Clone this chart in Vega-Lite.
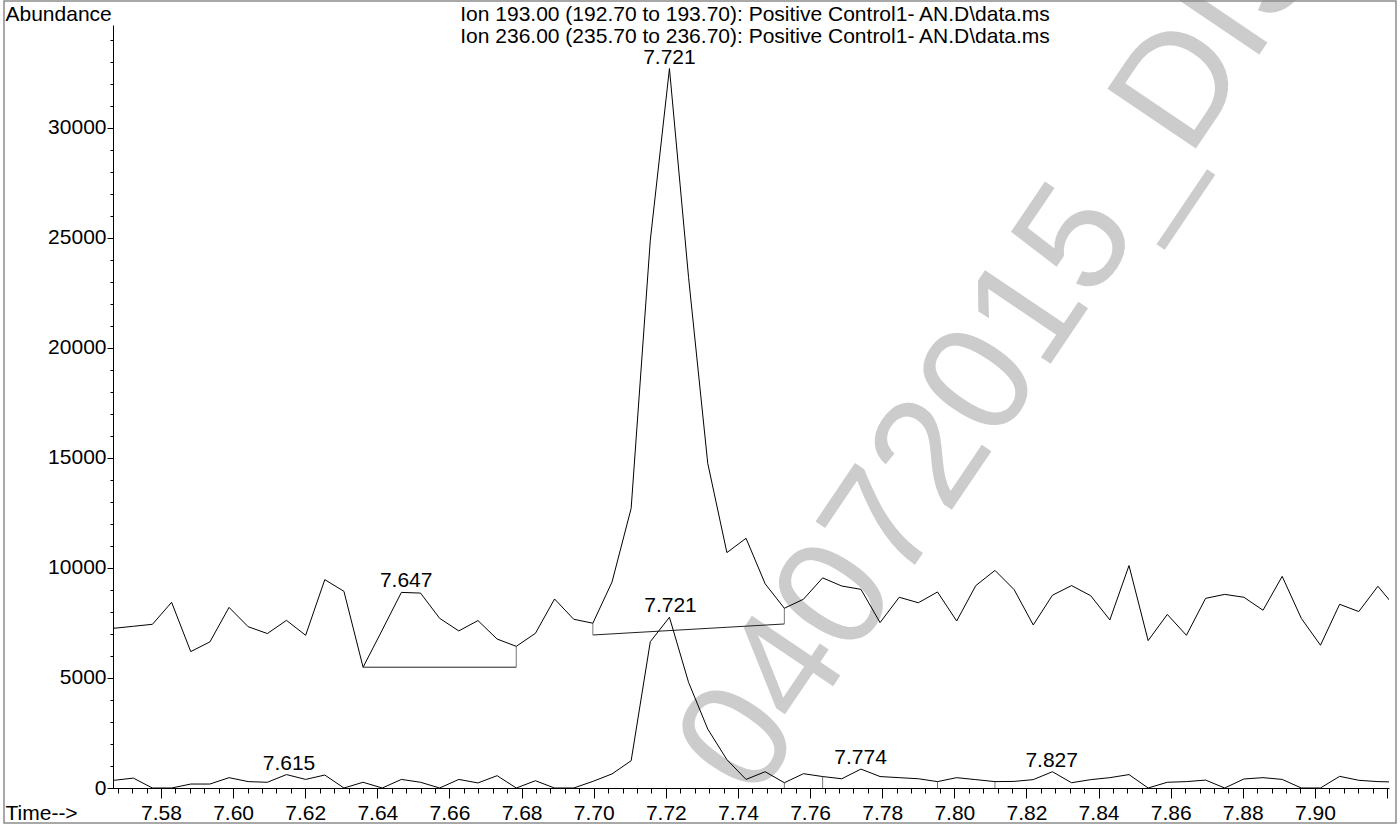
{
  "$schema": "https://vega.github.io/schema/vega-lite/v6.json",
  "width": 1276,
  "height": 763,
  "autosize": {"type": "none"},
  "padding": {"left": 113, "top": 25, "right": 11, "bottom": 37},
  "background": "white",
  "config": {
    "view": {"stroke": null},
    "font": "Liberation Sans",
    "axis": {
      "grid": false,
      "zindex": 1,
      "domainColor": "#000000",
      "domainWidth": 1,
      "tickColor": "#000000",
      "tickWidth": 1,
      "labelColor": "#000000",
      "labelFont": "Liberation Sans",
      "labelFontSize": 21,
      "titleColor": "#000000",
      "titleFont": "Liberation Sans",
      "titleFontSize": 21,
      "titleFontWeight": "normal",
      "labelFlush": false,
      "labelOverlap": false
    }
  },
  "datasets": {
    "scans": [
      {"t": 7.5617, "a": 9200, "b": 330},
      {"t": 7.56701, "a": 7260, "b": 350},
      {"t": 7.57232, "a": 7350, "b": 450},
      {"t": 7.57763, "a": 7440, "b": 0},
      {"t": 7.58294, "a": 8440, "b": 0},
      {"t": 7.58825, "a": 6200, "b": 180},
      {"t": 7.59356, "a": 6640, "b": 180},
      {"t": 7.59887, "a": 8210, "b": 470},
      {"t": 7.60418, "a": 7330, "b": 290},
      {"t": 7.60949, "a": 7020, "b": 260},
      {"t": 7.6148, "a": 7620, "b": 610},
      {"t": 7.62011, "a": 6940, "b": 390},
      {"t": 7.62542, "a": 9470, "b": 590},
      {"t": 7.63073, "a": 8940, "b": 0},
      {"t": 7.63604, "a": 5490, "b": 260},
      {"t": 7.64135, "a": 7180, "b": 0},
      {"t": 7.64666, "a": 8890, "b": 390},
      {"t": 7.65197, "a": 8860, "b": 260},
      {"t": 7.65728, "a": 7710, "b": 0},
      {"t": 7.66259, "a": 7140, "b": 390},
      {"t": 7.6679, "a": 7610, "b": 230},
      {"t": 7.67321, "a": 6770, "b": 560},
      {"t": 7.67852, "a": 6440, "b": 0},
      {"t": 7.68383, "a": 7030, "b": 330},
      {"t": 7.68914, "a": 8590, "b": 0},
      {"t": 7.69445, "a": 7670, "b": 0},
      {"t": 7.69976, "a": 7490, "b": 300},
      {"t": 7.70507, "a": 9360, "b": 640},
      {"t": 7.71038, "a": 12710, "b": 1240},
      {"t": 7.71569, "a": 24900, "b": 6650},
      {"t": 7.721, "a": 32700, "b": 7760},
      {"t": 7.72631, "a": 23200, "b": 4800},
      {"t": 7.73162, "a": 14760, "b": 2680},
      {"t": 7.73693, "a": 10700, "b": 1290},
      {"t": 7.74224, "a": 11350, "b": 390},
      {"t": 7.74755, "a": 9280, "b": 740},
      {"t": 7.75286, "a": 8170, "b": 240},
      {"t": 7.75817, "a": 8580, "b": 650},
      {"t": 7.76348, "a": 9550, "b": 520},
      {"t": 7.76879, "a": 9180, "b": 420},
      {"t": 7.7741, "a": 9030, "b": 860},
      {"t": 7.77941, "a": 7520, "b": 520},
      {"t": 7.78472, "a": 8670, "b": 470},
      {"t": 7.79003, "a": 8420, "b": 420},
      {"t": 7.79534, "a": 8910, "b": 290},
      {"t": 7.80065, "a": 7590, "b": 470},
      {"t": 7.80596, "a": 9200, "b": 380},
      {"t": 7.81127, "a": 9890, "b": 290},
      {"t": 7.81658, "a": 9020, "b": 300},
      {"t": 7.82189, "a": 7410, "b": 380},
      {"t": 7.8272, "a": 8760, "b": 740},
      {"t": 7.83251, "a": 9200, "b": 240},
      {"t": 7.83782, "a": 8740, "b": 380},
      {"t": 7.84313, "a": 7640, "b": 470},
      {"t": 7.84844, "a": 10110, "b": 610},
      {"t": 7.85375, "a": 6700, "b": 0},
      {"t": 7.85906, "a": 7890, "b": 260},
      {"t": 7.86437, "a": 6940, "b": 290},
      {"t": 7.86968, "a": 8620, "b": 360},
      {"t": 7.87499, "a": 8800, "b": 0},
      {"t": 7.8803, "a": 8670, "b": 410},
      {"t": 7.88561, "a": 8080, "b": 470},
      {"t": 7.89092, "a": 9620, "b": 390},
      {"t": 7.89623, "a": 7710, "b": 0},
      {"t": 7.90154, "a": 6490, "b": 0},
      {"t": 7.90685, "a": 8350, "b": 530},
      {"t": 7.91216, "a": 8020, "b": 350},
      {"t": 7.91747, "a": 9170, "b": 290},
      {"t": 7.92278, "a": 8120, "b": 270}
    ],
    "peaks": [
      {"t": 7.721, "v": 32700, "label": "7.721"},
      {"t": 7.648, "v": 8890, "label": "7.647"},
      {"t": 7.7213, "v": 7760, "label": "7.721"},
      {"t": 7.6155, "v": 610, "label": "7.615"},
      {"t": 7.774, "v": 860, "label": "7.774"},
      {"t": 7.827, "v": 740, "label": "7.827"}
    ],
    "baselines": [
      {"t": 7.63604, "v": 5490, "t2": 7.67852, "v2": 5490},
      {"t": 7.69976, "v": 6955, "t2": 7.75286, "v2": 7455}
    ],
    "drops": [
      {"t": 7.67852, "v": 5490, "v2": 6440},
      {"t": 7.69976, "v": 6955, "v2": 7490},
      {"t": 7.75286, "v": 7455, "v2": 8170},
      {"t": 7.75286, "v": 0, "v2": 240},
      {"t": 7.76348, "v": 0, "v2": 520},
      {"t": 7.79534, "v": 0, "v2": 290},
      {"t": 7.81127, "v": 0, "v2": 290}
    ]
  },
  "layer": [
    {
      "data": {"values": [{"mark": "04072015_DIS"}]},
      "mark": {"type": "text", "font": "Liberation Sans", "fontSize": 155, "angle": -56, "align": "left", "baseline": "alphabetic", "color": "#cccccc", "clip": false},
      "encoding": {
        "x": {"datum": 7.74467, "type": "quantitative", "scale": {"domain": [7.566689, 7.920544]}, "axis": null},
        "y": {"datum": -645, "type": "quantitative", "scale": {"domain": [0, 34680]}, "axis": null},
        "text": {"field": "mark"}
      }
    },
    {
      "data": {"values": [{"frame": "border"}]},
      "mark": {"type": "rect", "filled": false, "color": "#8c8c8c", "strokeWidth": 1.5, "clip": false},
      "encoding": {
        "x": {"datum": 7.53646, "type": "quantitative", "scale": {"domain": [7.566689, 7.920544]}, "axis": null},
        "x2": {"datum": 7.922485},
        "y": {"datum": 35773, "type": "quantitative", "scale": {"domain": [0, 34680]}, "axis": null},
        "y2": {"datum": -1591}
      }
    },
    {
      "data": {"values": [{"line": ["Ion 193.00 (192.70 to 193.70): Positive Control1- AN.D\\data.ms", "Ion 236.00 (235.70 to 236.70): Positive Control1- AN.D\\data.ms"]}]},
      "mark": {"type": "text", "font": "Liberation Sans", "fontSize": 21, "lineHeight": 22, "align": "center", "baseline": "top", "color": "#000000", "clip": false},
      "encoding": {
        "x": {"datum": 7.74473, "type": "quantitative", "scale": {"domain": [7.566689, 7.920544]}, "axis": null},
        "y": {"datum": 35617, "type": "quantitative", "scale": {"domain": [0, 34680]}, "axis": null},
        "text": {"field": "line"}
      }
    },
    {
      "data": {"name": "baselines"},
      "mark": {"type": "rule", "color": "#222222", "strokeWidth": 1},
      "encoding": {
        "x": {"field": "t", "type": "quantitative", "scale": {"domain": [7.566689, 7.920544]}, "axis": null},
        "x2": {"field": "t2"},
        "y": {"field": "v", "type": "quantitative", "scale": {"domain": [0, 34680]}, "axis": null},
        "y2": {"field": "v2"}
      }
    },
    {
      "data": {"name": "drops"},
      "mark": {"type": "rule", "color": "#777777", "strokeWidth": 1},
      "encoding": {
        "x": {"field": "t", "type": "quantitative", "scale": {"domain": [7.566689, 7.920544]}, "axis": null},
        "y": {"field": "v", "type": "quantitative", "scale": {"domain": [0, 34680]}, "axis": null},
        "y2": {"field": "v2"}
      }
    },
    {
      "data": {"name": "scans"},
      "mark": {"type": "line", "color": "#000000", "strokeWidth": 1, "clip": true},
      "encoding": {
        "x": {
          "field": "t", "type": "quantitative",
          "scale": {"domain": [7.566689, 7.920544]},
          "axis": {
            "orient": "bottom",
            "values": [7.58, 7.6, 7.62, 7.64, 7.66, 7.68, 7.7, 7.72, 7.74, 7.76, 7.78, 7.8, 7.82, 7.84, 7.86, 7.88, 7.9, 7.92],
            "labelExpr": "datum.value > 7.91 ? '' : format(datum.value, '.2f')",
            "tickSize": 10,
            "labelBaseline": "alphabetic",
            "labelPadding": 21,
            "title": "Time-->",
            "titleAlign": "left",
            "titleBaseline": "alphabetic",
            "titleAnchor": "start",
            "titleX": -108,
            "titleY": 31
          }
        },
        "y": {
          "field": "a", "type": "quantitative",
          "scale": {"domain": [0, 34680]},
          "axis": {
            "orient": "left",
            "values": [0, 5000, 10000, 15000, 20000, 25000, 30000],
            "format": "d",
            "tickSize": 6,
            "labelPadding": 1,
            "labelBaseline": "middle",
            "title": "Abundance",
            "titleAngle": 0,
            "titleAlign": "left",
            "titleBaseline": "alphabetic",
            "titleAnchor": "start",
            "titleX": -108,
            "titleY": -5
          }
        }
      }
    },
    {
      "data": {"name": "scans"},
      "mark": {"type": "line", "color": "#000000", "strokeWidth": 1, "clip": true},
      "encoding": {
        "x": {
          "field": "t", "type": "quantitative",
          "scale": {"domain": [7.566689, 7.920544]},
          "axis": {
            "orient": "bottom",
            "values": [7.568, 7.572, 7.576, 7.58, 7.584, 7.588, 7.592, 7.596, 7.6, 7.604, 7.608, 7.612, 7.616, 7.62, 7.624, 7.628, 7.632, 7.636, 7.64, 7.644, 7.648, 7.652, 7.656, 7.66, 7.664, 7.668, 7.672, 7.676, 7.68, 7.684, 7.688, 7.692, 7.696, 7.7, 7.704, 7.708, 7.712, 7.716, 7.72, 7.724, 7.728, 7.732, 7.736, 7.74, 7.744, 7.748, 7.752, 7.756, 7.76, 7.764, 7.768, 7.772, 7.776, 7.78, 7.784, 7.788, 7.792, 7.796, 7.8, 7.804, 7.808, 7.812, 7.816, 7.82, 7.824, 7.828, 7.832, 7.836, 7.84, 7.844, 7.848, 7.852, 7.856, 7.86, 7.864, 7.868, 7.872, 7.876, 7.88, 7.884, 7.888, 7.892, 7.896, 7.9, 7.904, 7.908, 7.912, 7.916, 7.92],
            "tickSize": 5,
            "labels": false,
            "domain": false,
            "title": null
          }
        },
        "y": {
          "field": "b", "type": "quantitative",
          "scale": {"domain": [0, 34680]},
          "axis": {
            "orient": "left",
            "values": [0, 1000, 2000, 3000, 4000, 5000, 6000, 7000, 8000, 9000, 10000, 11000, 12000, 13000, 14000, 15000, 16000, 17000, 18000, 19000, 20000, 21000, 22000, 23000, 24000, 25000, 26000, 27000, 28000, 29000, 30000, 31000, 32000, 33000, 34000],
            "tickSize": 3,
            "labels": false,
            "domain": false,
            "title": null
          }
        }
      }
    },
    {
      "data": {"name": "peaks"},
      "mark": {"type": "text", "font": "Liberation Sans", "fontSize": 21, "align": "center", "baseline": "alphabetic", "dy": -5, "color": "#000000", "clip": false},
      "encoding": {
        "x": {"field": "t", "type": "quantitative", "scale": {"domain": [7.566689, 7.920544]}, "axis": null},
        "y": {"field": "v", "type": "quantitative", "scale": {"domain": [0, 34680]}, "axis": null},
        "text": {"field": "label"}
      }
    }
  ],
  "resolve": {"axis": {"x": "independent", "y": "independent"}}
}
